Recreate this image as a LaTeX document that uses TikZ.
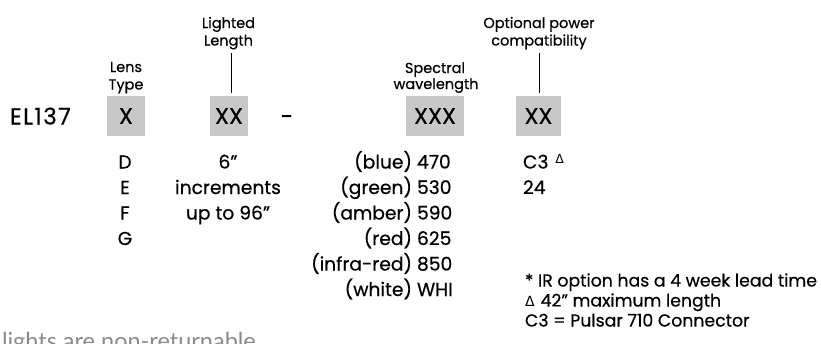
\documentclass[tikz,border=0pt]{standalone}
\usepackage{fontspec}
\setmainfont{Poppins}[FakeBold=0.5]
\newfontfamily\symfont{DejaVu Sans}
\newfontfamily\grayfont{Lato}
\definecolor{boxgray}{HTML}{C8C8C8}
\definecolor{notegray}{HTML}{8A8A8A}
\begin{document}
\begin{tikzpicture}[x=1pt,y=-1pt,inner sep=0pt,outer sep=0pt,
  codetxt/.style={font=\fontsize{23}{27}\selectfont},
  fieldbox/.style={fill=boxgray,draw=none,minimum height=40pt,font=\fontsize{22.5}{26}\selectfont},
  lbl/.style={font=\fontsize{14.5}{17}\selectfont,anchor=base},
  rowtxt/.style={font=\fontsize{18.7}{22}\selectfont},
  notetxt/.style={font=\fontsize{17.3}{20}\selectfont,anchor=base west},
  lead/.style={draw=black,line width=0.9pt}]
\useasboundingbox (0,0) rectangle (821,343);
% part number
\node[codetxt,anchor=base west] (code) at (10,124.5) {\addfontfeature{LetterSpace=6}EL137};
\node[fieldbox,minimum width=38pt] (bLens) at (126,116) {X};
\node[fieldbox,minimum width=38pt] (bLen) at (229,116) {XX};
\node[codetxt,anchor=base] (dash) at (287,124.5) {-};
\node[fieldbox,minimum width=58pt] (bSpec) at (435,116) {XXX};
\node[fieldbox,minimum width=45pt] (bPow) at (538.5,116) {XX};
% labels
\node[lbl] (lLens1) at (126,72) {Lens};
\node[lbl] (lLens2) at (126,89.5) {Type};
\node[lbl] (lLen1) at (228.5,28) {Lighted};
\node[lbl] (lLen2) at (228.5,45.5) {Length};
\node[lbl] (lSpec1) at (435,73) {Spectral};
\node[lbl] (lSpec2) at (436,89) {wavelength};
\node[lbl] (lPow1) at (539,28) {Optional power};
\node[lbl] (lPow2) at (539,45.5) {compatibility};
\draw[lead] ([xshift=2pt,yshift=3pt]bLen.north) -- ++(0,-40);
\draw[lead] ([xshift=0.5pt,yshift=3pt]bPow.north) -- ++(0,-40);
% lens type
\node[rowtxt,anchor=base] (tD) at (125,168.5) {D};
\node[rowtxt,anchor=base] (tE) at (125,194) {E};
\node[rowtxt,anchor=base] (tF) at (125,219.5) {F};
\node[rowtxt,anchor=base] (tG) at (125,245) {G};
% lighted length
\node[rowtxt,anchor=base] (len1) at (228,168.5) {6”};
\node[rowtxt,anchor=base] (len2) at (228,194) {increments};
\node[rowtxt,anchor=base] (len3) at (228,219.5) {up to 96”};
% spectral
\node[rowtxt,anchor=base east] (c1) at (412,168.5) {(blue)};
\node[rowtxt,anchor=base east] (c2) at (412,194) {(green)};
\node[rowtxt,anchor=base east] (c3) at (412,219.5) {(amber)};
\node[rowtxt,anchor=base east] (c4) at (412,245) {(red)};
\node[rowtxt,anchor=base east] (c5) at (412,270.5) {(infra-red)};
\node[rowtxt,anchor=base east] (c6) at (412,296) {(white)};
\node[rowtxt,anchor=base west] (w1) at (417,168.5) {470};
\node[rowtxt,anchor=base west] (w2) at (417,194) {530};
\node[rowtxt,anchor=base west] (w3) at (417,219.5) {590};
\node[rowtxt,anchor=base west] (w4) at (417,245) {625};
\node[rowtxt,anchor=base west] (w5) at (417,270.5) {850};
\node[rowtxt,anchor=base west] (w6) at (417,296) {WHI};
% power
\node[rowtxt,anchor=base west] (p1) at (523,168.5) {C3\hspace{7pt}\raisebox{5.5pt}{\symfont\fontsize{12.5}{14}\selectfont Δ}};
\node[rowtxt,anchor=base west] (p2) at (523,194) {24};
% notes
\node[notetxt] (n1) at (525,286.5) {* IR option has a 4 week lead time};
\node[notetxt] (n2) at (525,306.5) {{\symfont\fontsize{14}{15}\selectfont Δ}\hspace{6pt}42" maximum length};
\node[notetxt] (n3) at (525,326.5) {C3 = Pulsar 710 Connector};
\node[anchor=base west,text=notegray,font=\grayfont\fontsize{23.5}{27}\selectfont] (ret) at (2,349) {lights are non-returnable};
\end{tikzpicture}
\end{document}
